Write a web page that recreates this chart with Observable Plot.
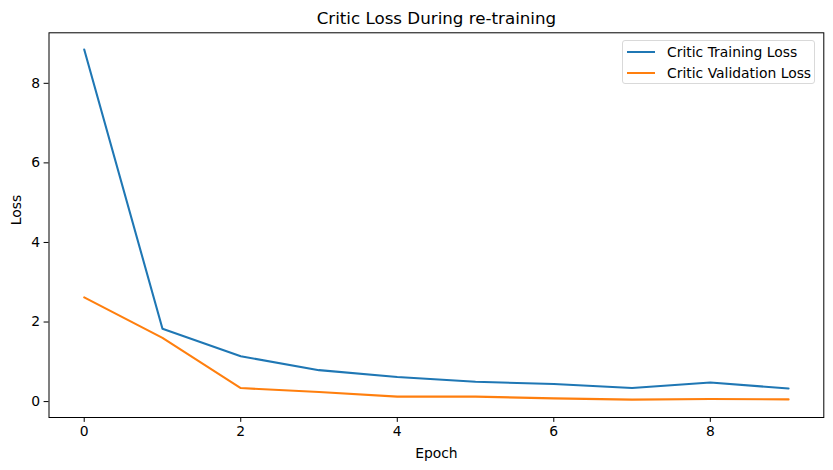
<!DOCTYPE html>
<html>
<head>
<meta charset="utf-8">
<script src="https://cdn.jsdelivr.net/npm/d3@7"></script>
<script src="https://cdn.jsdelivr.net/npm/@observablehq/plot@0.6"></script>
<style>
  html, body { margin: 0; padding: 0; background: #fff; }
  #wrap { position: relative; width: 833px; height: 470px; font-family: "DejaVu Sans", sans-serif; }
  #legend { position: absolute; left: 622px; top: 40px; width: 193px; height: 44px; border: 1px solid #d9d9d9; border-radius: 3px; background: rgba(255,255,255,0.8); box-sizing: border-box; font-size: 13.9px; color: #000; }
  .row { position: absolute; left: 4px; height: 16px; display: flex; align-items: center; }
  .sw { width: 28px; height: 2px; margin-right: 12px; }
</style>
</head>
<body>
<div id="wrap"><div id="chart"></div><div id="legend"></div></div>
<script>
const epochs = [0, 1, 2, 3, 4, 5, 6, 7, 8, 9];
const trainingLoss = [8.85, 1.83, 1.14, 0.79, 0.62, 0.50, 0.44, 0.34, 0.48, 0.33];
const validationLoss = [2.62, 1.60, 0.34, 0.24, 0.125, 0.125, 0.08, 0.05, 0.065, 0.055];
const seriesNames = ["Critic Training Loss", "Critic Validation Loss"];
const seriesColors = ["#1f77b4", "#ff7f0e"];
const xTicks = [0, 2, 4, 6, 8];
const yTicks = [0, 2, 4, 6, 8];

const data = [
  ...epochs.map((e, i) => ({epoch: e, loss: trainingLoss[i], series: seriesNames[0]})),
  ...epochs.map((e, i) => ({epoch: e, loss: validationLoss[i], series: seriesNames[1]}))
];

const chart = Plot.plot({
  width: 833,
  height: 470,
  marginLeft: 48.5,
  marginRight: 9.7,
  marginTop: 32.3,
  marginBottom: 53,
  style: {fontFamily: "DejaVu Sans, sans-serif", fontSize: "13.9px", color: "#000", background: "#fff"},
  x: {domain: [-0.45, 9.45], ticks: xTicks, tickFormat: d3.format("d")},
  y: {domain: [-0.40, 9.27], ticks: yTicks, tickFormat: d3.format("d")},
  color: {domain: seriesNames, range: seriesColors},
  marks: [
    Plot.axisX({ticks: xTicks, tickSize: 4.9, tickPadding: 4, label: null, fontSize: 13.9, tickFormat: d3.format("d")}),
    Plot.axisY({ticks: yTicks, tickSize: 4.9, tickPadding: 4, label: null, fontSize: 13.9, tickFormat: d3.format("d")}),
    Plot.line(data, {x: "epoch", y: "loss", z: "series", stroke: "series", strokeWidth: 2.08, strokeLinejoin: "round"}),
    Plot.frame({stroke: "#000", strokeWidth: 1}),
    Plot.text(["Critic Loss During re-training"], {frameAnchor: "top", dy: -14, fontSize: 16.7, lineAnchor: "middle"}),
    Plot.text(["Epoch"], {frameAnchor: "bottom", dy: 36, fontSize: 13.9, lineAnchor: "middle"}),
    Plot.text(["Loss"], {frameAnchor: "left", dx: -32, fontSize: 13.9, rotate: -90, lineAnchor: "middle"})
  ]
});
document.getElementById("chart").appendChild(chart);

const legend = document.getElementById("legend");
seriesNames.forEach((name, i) => {
  const row = document.createElement("div");
  row.className = "row";
  row.style.top = (3 + i * 20.5) + "px";
  const sw = document.createElement("span");
  sw.className = "sw";
  sw.style.background = seriesColors[i];
  const t = document.createElement("span");
  t.textContent = name;
  row.appendChild(sw);
  row.appendChild(t);
  legend.appendChild(row);
});
</script>
</body>
</html>
